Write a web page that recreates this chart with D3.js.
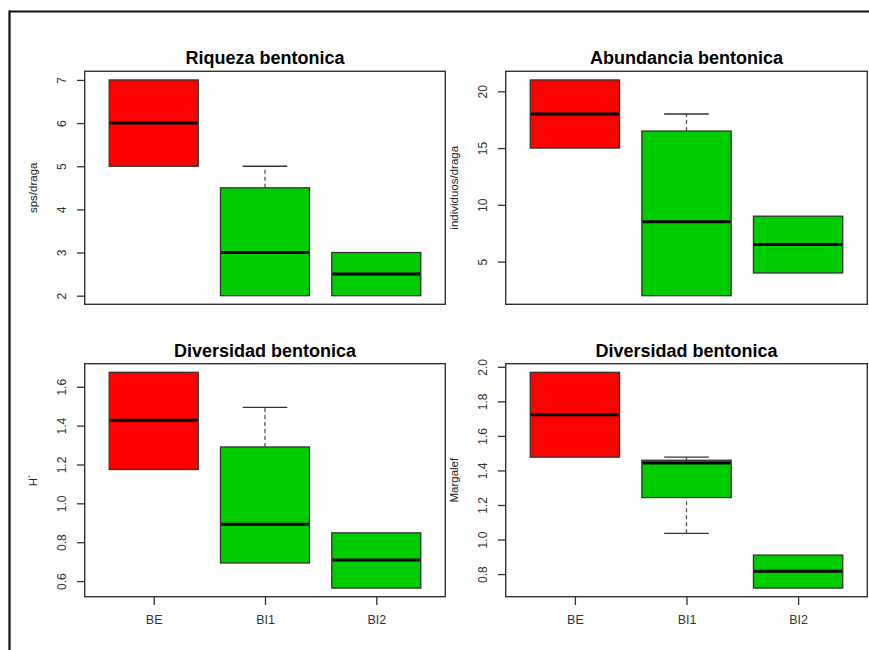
<!DOCTYPE html>
<html>
<head>
<meta charset="utf-8">
<script src="https://cdn.jsdelivr.net/npm/d3@7"></script>
<style>
  html, body { margin: 0; padding: 0; background: #fff; }
  svg { display: block; }
  text { font-family: Arial, "Liberation Sans", Helvetica, sans-serif; }
</style>
</head>
<body>
<svg id="chart" width="869" height="650"></svg>
<script>
// ---- DATA ----
const categories = ["BE", "BI1", "BI2"];
const boxColors = ["#FF0000", "#00CD00", "#00CD00"];

// box statistics per category: [lower whisker, Q1, median, Q3, upper whisker]
const riquezaStats = [[5, 5, 6, 7, 7], [2, 2, 3, 4.5, 5], [2, 2, 2.5, 3, 3]];
const abundanciaStats = [[15, 15, 18, 21, 21], [2, 2, 8.5, 16.5, 18], [4, 4, 6.5, 9, 9]];
const shannonStats = [[1.174, 1.174, 1.427, 1.674, 1.674], [0.693, 0.693, 0.893, 1.290, 1.494], [0.564, 0.564, 0.709, 0.848, 0.848]];
const margalefStats = [[1.477, 1.477, 1.722, 1.968, 1.968], [1.036, 1.243, 1.443, 1.459, 1.477], [0.719, 0.719, 0.817, 0.910, 0.910]];

const riquezaTicks = [2, 3, 4, 5, 6, 7];
const abundanciaTicks = [5, 10, 15, 20];
const shannonTicks = [0.6, 0.8, 1.0, 1.2, 1.4, 1.6];
const margalefTicks = [0.8, 1.0, 1.2, 1.4, 1.6, 1.8, 2.0];

const titles = ["Riqueza bentonica", "Abundancia bentonica", "Diversidad bentonica", "Diversidad bentonica"];
const yLabels = ["sps/draga", "individuos/draga", "H´", "Margalef"];

// ---- LAYOUT ----
const svg = d3.select("#chart");

// outer frame (top and left lines)
svg.append("line").attr("x1", 9).attr("x2", 869).attr("y1", 11.5).attr("y2", 11.5)
  .attr("stroke", "#111").attr("stroke-width", 2.2);
svg.append("line").attr("x1", 9.5).attr("x2", 9.5).attr("y1", 10.5).attr("y2", 650)
  .attr("stroke", "#111").attr("stroke-width", 2.2);

const panels = [
  { stats: riquezaStats, ticks: riquezaTicks, fmt: d3.format("d"), x0: 84.7, x1: 445.3, y0: 71.3, y1: 304.3, xAxis: false },
  { stats: abundanciaStats, ticks: abundanciaTicks, fmt: d3.format("d"), x0: 505.7, x1: 867.3, y0: 71.3, y1: 304.3, xAxis: false },
  { stats: shannonStats, ticks: shannonTicks, fmt: d3.format(".1f"), x0: 84.7, x1: 445.3, y0: 363.7, y1: 596.7, xAxis: true },
  { stats: margalefStats, ticks: margalefTicks, fmt: d3.format(".1f"), x0: 505.7, x1: 867.3, y0: 363.7, y1: 596.7, xAxis: true }
];

const axisCol = "#333";

panels.forEach((p, i) => {
  const g = svg.append("g");
  const all = p.stats.flat();
  const lo = d3.min(all), hi = d3.max(all);
  const ext = (hi - lo) * 0.04;
  const y = d3.scaleLinear().domain([lo - ext, hi + ext]).range([p.y1, p.y0]);
  const x = d3.scaleLinear().domain([0.38, 3.62]).range([p.x0, p.x1]);
  const idx = categories.map((c, k) => k + 1);
  const halfBox = 0.4, halfStaple = 0.2;

  // whiskers
  p.stats.forEach((s, k) => {
    const cx = x(k + 1);
    const segs = [[s[0], s[1]], [s[3], s[4]]];
    segs.forEach(([a, b], j) => {
      if (Math.abs(a - b) < 1e-9) return;
      g.append("line").attr("x1", cx).attr("x2", cx).attr("y1", y(a)).attr("y2", y(b))
        .attr("stroke", "#555").attr("stroke-width", 1.3).attr("stroke-dasharray", "4,3");
      const cap = j === 0 ? s[0] : s[4];
      g.append("line").attr("x1", x(k + 1 - halfStaple)).attr("x2", x(k + 1 + halfStaple))
        .attr("y1", y(cap)).attr("y2", y(cap)).attr("stroke", "#333").attr("stroke-width", 1.3);
    });
  });

  // boxes
  g.selectAll("rect.box").data(p.stats).join("rect").attr("class", "box")
    .attr("x", (s, k) => x(k + 1 - halfBox))
    .attr("width", (s, k) => x(k + 1 + halfBox) - x(k + 1 - halfBox))
    .attr("y", s => y(s[3]))
    .attr("height", s => y(s[1]) - y(s[3]))
    .attr("fill", (s, k) => boxColors[k])
    .attr("stroke", "#333").attr("stroke-width", 1.3);

  // medians
  g.selectAll("line.med").data(p.stats).join("line").attr("class", "med")
    .attr("x1", (s, k) => x(k + 1 - halfBox) + 0.7)
    .attr("x2", (s, k) => x(k + 1 + halfBox) - 0.7)
    .attr("y1", s => y(s[2])).attr("y2", s => y(s[2]))
    .attr("stroke", "#000").attr("stroke-width", 3);

  // plot frame
  g.append("rect").attr("x", p.x0).attr("y", p.y0)
    .attr("width", p.x1 - p.x0).attr("height", p.y1 - p.y0)
    .attr("fill", "none").attr("stroke", axisCol).attr("stroke-width", 1.4);

  // y axis
  const yAxis = d3.axisLeft(y).tickValues(p.ticks).tickFormat(p.fmt).tickSize(7.7).tickPadding(0);
  const ya = g.append("g").attr("transform", `translate(${p.x0},0)`).call(yAxis);
  ya.select(".domain").remove();
  ya.selectAll(".tick line").attr("stroke", axisCol).attr("stroke-width", 1.3);
  ya.selectAll(".tick text")
    .attr("x", 0).attr("dy", null)
    .attr("transform", `translate(${-22},0) rotate(-90)`)
    .attr("text-anchor", "middle").attr("dominant-baseline", "middle")
    .attr("fill", axisCol).style("font-size", "12px").style("font-family", "Arial, 'Liberation Sans', sans-serif");

  // y label
  g.append("text")
    .attr("transform", `translate(${p.x0 - 51},${(p.y0 + p.y1) / 2}) rotate(-90)`)
    .attr("text-anchor", "middle").attr("dominant-baseline", "middle")
    .attr("fill", "#222").style("font-size", "11.5px")
    .text(yLabels[i]);

  // title
  g.append("text")
    .attr("x", (p.x0 + p.x1) / 2).attr("y", p.y0 - 7)
    .attr("text-anchor", "middle").attr("fill", "#000")
    .style("font-size", "18px").style("font-weight", "bold")
    .text(titles[i]);

  // x axis
  if (p.xAxis) {
    const xb = d3.scalePoint().domain(categories).range([x(1), x(3)]);
    const xAxis = d3.axisBottom(xb).tickSize(8.3).tickPadding(10);
    const xa = g.append("g").attr("transform", `translate(0,${p.y1})`).call(xAxis);
    xa.select(".domain").remove();
    xa.selectAll(".tick line").attr("stroke", axisCol).attr("stroke-width", 1.3);
    xa.selectAll(".tick text").attr("fill", axisCol)
      .style("font-size", "12.5px").style("font-family", "Arial, 'Liberation Sans', sans-serif");
  }
});
</script>
</body>
</html>
